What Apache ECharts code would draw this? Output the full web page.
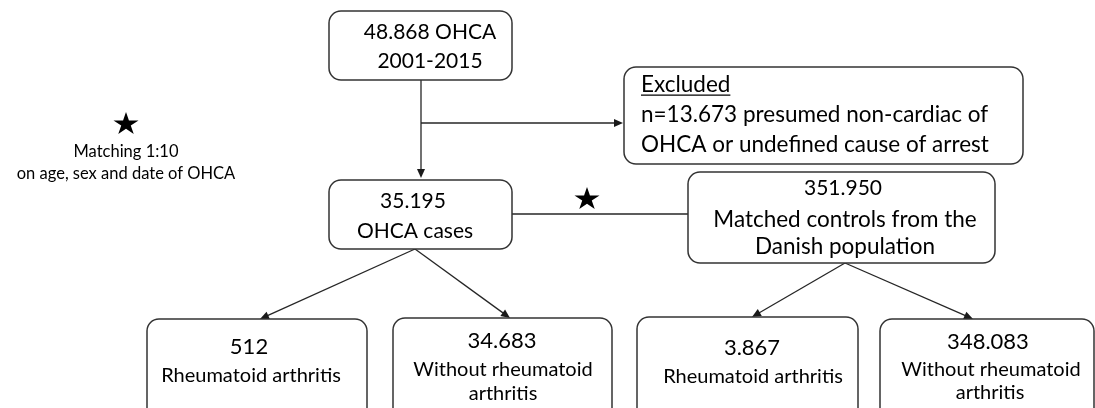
<!DOCTYPE html>
<html>
<head>
<meta charset="utf-8">
<script src="https://cdn.jsdelivr.net/npm/echarts@6/dist/echarts.min.js"></script>
<style>
  html, body { margin: 0; padding: 0; background: #fff; }
  #flow { width: 1095px; height: 408px; }
</style>
</head>
<body>
<div id="flow"></div>
<script>
// counts in the boxes
var totalOhca = '48.868', period = '2001-2015';
var excludedN = '13.673';
var cases = '35.195', controls = '351.950';
var caseRa = '512', caseNoRa = '34.683';
var ctrlRa = '3.867', ctrlNoRa = '348.083';

// boxes on the page grid: [x0, y0, x1, y1]
var boxes = [
    [329, 11, 512, 80],
    [624, 67, 1023, 164],
    [329, 180, 512, 249],
    [688, 172, 995, 263],
    [147, 319, 367, 420],
    [393, 318, 612, 420],
    [637, 317, 858, 420],
    [880, 319, 1094, 420]
];

// connectors: [x0, y0, x1, y1, arrow]
var links = [
    [421, 80, 421, 178, 1],
    [421, 123, 623, 123, 1],
    [512, 214, 688, 214, 0],
    [415, 249, 260, 319, 1],
    [415, 249, 510, 318, 1],
    [845, 263, 752, 317, 1],
    [845, 263, 973, 319, 1]
];

var stars = [[126, 123], [587, 198]];

// texts: [text, x, y, size, align, underline]
var texts = [
    [totalOhca + ' OHCA', 430, 32, 21, 'center'],
    [period, 430, 61, 21, 'center'],
    ['Excluded', 641, 85, 22.5, 'left', 1],
    ['n=' + excludedN + ' presumed non-cardiac of', 641, 115, 22.5, 'left'],
    ['OHCA or undefined cause of arrest', 641, 145, 22.5, 'left'],
    ['Matching 1:10', 126, 152, 16.5, 'center'],
    ['on age, sex and date of OHCA', 126, 174, 16.5, 'center'],
    [cases, 413, 201, 21, 'center'],
    ['OHCA cases', 415, 231, 21, 'center'],
    [controls, 843, 188, 21, 'center'],
    ['Matched controls from the', 845, 220, 22.5, 'center'],
    ['Danish population', 845, 247, 22.5, 'center'],
    [caseRa, 249, 347, 22, 'center'],
    ['Rheumatoid arthritis', 251, 376, 20, 'center'],
    [caseNoRa, 502, 341, 22, 'center'],
    ['Without rheumatoid', 503, 370, 20, 'center'],
    ['arthritis', 503, 394, 20, 'center'],
    [ctrlRa, 752, 348, 22, 'center'],
    ['Rheumatoid arthritis', 753, 377, 20, 'center'],
    [ctrlNoRa, 988, 342, 22, 'center'],
    ['Without rheumatoid', 991, 370, 20, 'center'],
    ['arthritis', 990, 393, 20, 'center']
];

var FONT = 'Lato, "Open Sans", sans-serif';
var starPath = 'path://M50 0L61.23 34.55L97.55 34.55L68.16 55.9L79.39 90.45L50 69.1L20.61 90.45L31.84 55.9L2.45 34.55L38.77 34.55Z';

var measureCtx = document.createElement('canvas').getContext('2d');
function textWidth(str, size) {
    measureCtx.font = size + 'px ' + FONT;
    return measureCtx.measureText(str).width;
}

var chart = echarts.init(document.getElementById('flow'), null, { renderer: 'canvas' });
chart.setOption({
    animation: false,
    backgroundColor: '#fff',
    grid: { left: 0, right: 0, top: 0, bottom: 0 },
    xAxis: { type: 'value', min: 0, max: 1095, show: false },
    yAxis: { type: 'value', min: 0, max: 408, inverse: true, show: false },
    series: [
        {
            type: 'custom',
            clip: false,
            data: links,
            renderItem: function (params, api) {
                var p0 = api.coord([api.value(0), api.value(1)]);
                var p1 = api.coord([api.value(2), api.value(3)]);
                var kids = [];
                var dx = p1[0] - p0[0], dy = p1[1] - p0[1];
                var len = Math.sqrt(dx * dx + dy * dy);
                var ux = dx / len, uy = dy / len;
                var end = p1;
                if (api.value(4)) {
                    var al = 9, aw = 4;
                    var bx = p1[0] - ux * al, by = p1[1] - uy * al;
                    end = [bx + ux * 2, by + uy * 2];
                    kids.push({
                        type: 'polygon',
                        shape: { points: [p1, [bx - uy * aw, by + ux * aw], [bx + uy * aw, by - ux * aw]] },
                        style: { fill: '#1a1a1a' }
                    });
                }
                kids.unshift({
                    type: 'line',
                    shape: { x1: p0[0], y1: p0[1], x2: end[0], y2: end[1] },
                    style: { stroke: '#262626', lineWidth: 1.3 }
                });
                return { type: 'group', children: kids };
            }
        },
        {
            type: 'custom',
            clip: false,
            data: boxes,
            renderItem: function (params, api) {
                var a = api.coord([api.value(0), api.value(1)]);
                var b = api.coord([api.value(2), api.value(3)]);
                return {
                    type: 'rect',
                    shape: { x: a[0], y: a[1], width: b[0] - a[0], height: b[1] - a[1], r: 12 },
                    style: { fill: '#fff', stroke: '#333', lineWidth: 1.5 }
                };
            }
        },
        {
            type: 'custom',
            clip: false,
            z: 5,
            data: texts.map(function (t) { return [t[1], t[2]]; }),
            renderItem: function (params, api) {
                var t = texts[params.dataIndex];
                var p = api.coord([api.value(0), api.value(1)]);
                var kids = [{
                    type: 'text',
                    x: p[0], y: p[1],
                    style: {
                        text: t[0],
                        fill: '#000',
                        font: t[3] + 'px ' + FONT,
                        textAlign: t[4],
                        textVerticalAlign: 'middle'
                    }
                }];
                if (t[5]) {
                    var w = textWidth(t[0], t[3]);
                    kids.push({
                        type: 'line',
                        shape: { x1: p[0], y1: p[1] + t[3] * 0.45, x2: p[0] + w, y2: p[1] + t[3] * 0.45 },
                        style: { stroke: '#000', lineWidth: 1.4 }
                    });
                }
                return { type: 'group', children: kids };
            }
        },
        {
            type: 'scatter',
            z: 6,
            data: stars,
            symbol: starPath,
            symbolSize: [25, 22],
            itemStyle: { color: '#000', opacity: 1 },
            silent: true
        }
    ]
});
</script>
</body>
</html>
